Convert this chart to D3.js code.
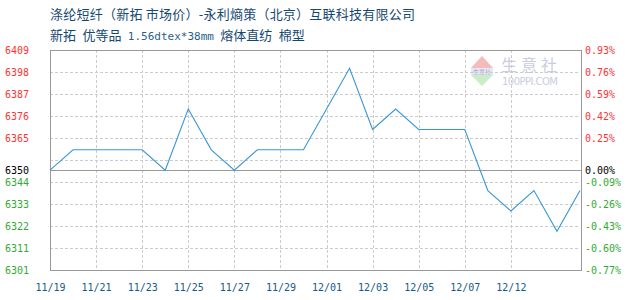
<!DOCTYPE html>
<html><head><meta charset="utf-8">
<script src="https://cdn.jsdelivr.net/npm/d3@7"></script>
<style>
html,body{margin:0;padding:0;background:#fff;}
svg{display:block;}
</style></head>
<body>
<svg id="chart" width="630" height="300"></svg>
<script>
// ---- data ----
const titleLine1 = "涤纶短纤（新拓 市场价）-永利熵策（北京）互联科技有限公司";
const titleLine2a = "新拓 优等品 ";
const titleLine2b = "1.56dtex*38mm";
const titleLine2c = " 熔体直纺 棉型";
const dates = ["11/19","11/20","11/21","11/22","11/23","11/24","11/25","11/26","11/27","11/28","11/29","11/30",
               "12/01","12/02","12/03","12/04","12/05","12/06","12/07","12/10","12/12","12/13","12/14","12/17"];
const prices = [6350,6360,6360,6360,6360,6350,6380,6360,6350,6360,6360,6360,
                6380,6400,6370,6380,6370,6370,6370,6340,6330,6340,6320,6340];
const xTickLabels = ["11/19","11/21","11/23","11/25","11/27","11/29","12/01","12/03","12/05","12/07","12/12"];
const yMin = 6301, yMax = 6409;
const baseValue = 6350;
const yTickLabels = ["6301","6311","6322","6333","6344",null,"6365","6376","6387","6398","6409"];
const pctTickLabels = ["-0.77%","-0.60%","-0.43%","-0.26%","-0.09%",null,"0.25%","0.42%","0.59%","0.76%","0.93%"];
const baseLabel = "6350", basePctLabel = "0.00%";
const watermarkCN = "生意社", watermarkEN = "100PPI.COM";

// ---- layout ----
const L = 50, R = 580, T = 50, B = 270;
const svg = d3.select("#chart");
const x = d3.scalePoint().domain(dates).range([L, R]);
const y = d3.scaleLinear().domain([yMin, yMax]).range([B, T]);
const gridVals = d3.range(yTickLabels.length).map(k => yMin + k * (yMax - yMin) / (yTickLabels.length - 1));

// title
const tfont = "'Noto Sans CJK SC','Noto Sans',sans-serif";
svg.append("text").attr("x", 50).attr("y", 19).attr("font-family", tfont).attr("font-size", 13)
  .attr("textLength", 365).attr("lengthAdjust", "spacing")
  .attr("fill", "#154870").text(titleLine1);
const t2 = svg.append("text").attr("x", 50).attr("y", 40).attr("font-family", tfont).attr("font-size", 13)
  .attr("word-spacing", 3.5).attr("fill", "#154870");
t2.append("tspan").text(titleLine2a);
t2.append("tspan").attr("font-family", "'DejaVu Sans Mono',monospace").attr("font-size", 11).attr("fill", "#2a5f88").text(titleLine2b);
t2.append("tspan").text(titleLine2c);

// watermark
const wm = svg.append("g").attr("transform", "translate(482,71)");
wm.append("path").attr("d", "M-11,-3 L0,-15 L11,-3 Z").attr("fill", "#f5baba");
wm.append("path").attr("d", "M-11,4 L0,15 L11,4 Z").attr("fill", "#c8edc8");
wm.append("rect").attr("x", -11).attr("y", -3).attr("width", 22).attr("height", 7).attr("fill", "#e6e8f2");
wm.append("text").attr("x", 0).attr("y", 3).attr("text-anchor", "middle").attr("font-size", 6)
  .attr("font-family", "DejaVu Sans").attr("fill", "#9aa0c4").text("生意社");
svg.append("text").attr("x", 501).attr("y", 71).attr("font-family", tfont).attr("font-size", 16)
  .attr("letter-spacing", 4).attr("fill", "#c9cde2").text(watermarkCN);
svg.append("text").attr("x", 502).attr("y", 85).attr("font-family", "'DejaVu Sans',sans-serif").attr("font-size", 10)
  .attr("textLength", 56).attr("fill", "#c9cde2").text(watermarkEN);

// grid
const grid = svg.append("g").attr("stroke", "#cccccc").attr("stroke-dasharray", "3,2").attr("shape-rendering", "crispEdges");
gridVals.slice(1, -1).forEach(v => {
  const yy = Math.round(y(v)) + 0.5;
  grid.append("line").attr("x1", L).attr("x2", R).attr("y1", yy).attr("y2", yy);
});
xTickLabels.slice(1).forEach(d => {
  const xx = Math.round(x(d)) + 0.5;
  grid.append("line").attr("x1", xx).attr("x2", xx).attr("y1", T).attr("y2", B);
});

// frame + base line
const fr = svg.append("g").attr("stroke", "#999999").attr("fill", "none").attr("shape-rendering", "crispEdges");
fr.append("rect").attr("x", L + 0.5).attr("y", T + 0.5).attr("width", R - L + 1).attr("height", B - T);
const by = Math.round(y(baseValue)) + 0.5;
fr.append("line").attr("x1", L).attr("x2", R + 1).attr("y1", by).attr("y2", by);

// line
svg.append("path").datum(prices)
  .attr("fill", "none").attr("stroke", "#3a98d4").attr("stroke-width", 1.1)
  .attr("d", d3.line().x((d, i) => x(dates[i])).y(d => y(d)));

// axes
const mono = "'DejaVu Sans Mono',monospace";
const colorFor = v => v > baseValue ? "#ff3333" : (v < baseValue ? "#33aa33" : "#000000");
const leftVals = gridVals.filter((v, i) => yTickLabels[i] !== null).concat([baseValue]);
const leftFmt = v => v === baseValue ? baseLabel : yTickLabels[gridVals.indexOf(v)];
const rightFmt = v => v === baseValue ? basePctLabel : pctTickLabels[gridVals.indexOf(v)];

const gl = svg.append("g").attr("transform", "translate(5,0)")
  .call(d3.axisRight(y).tickValues(leftVals).tickFormat(leftFmt).tickSize(0).tickPadding(0));
const gr = svg.append("g").attr("transform", "translate(585,0)")
  .call(d3.axisRight(y).tickValues(leftVals).tickFormat(rightFmt).tickSize(0).tickPadding(0));
[gl, gr].forEach(g => {
  g.select(".domain").remove();
  g.selectAll("text").attr("font-family", mono).attr("font-size", 10).attr("dy", "0.3em")
    .attr("text-anchor", "start").attr("fill", d => colorFor(d));
});

const gx = svg.append("g").attr("transform", `translate(0,${B})`)
  .call(d3.axisBottom(x).tickValues(xTickLabels).tickSize(0).tickPadding(14));
gx.select(".domain").remove();
gx.selectAll("text").attr("font-family", mono).attr("font-size", 10).attr("fill", "#155a88");
</script>
</body></html>
